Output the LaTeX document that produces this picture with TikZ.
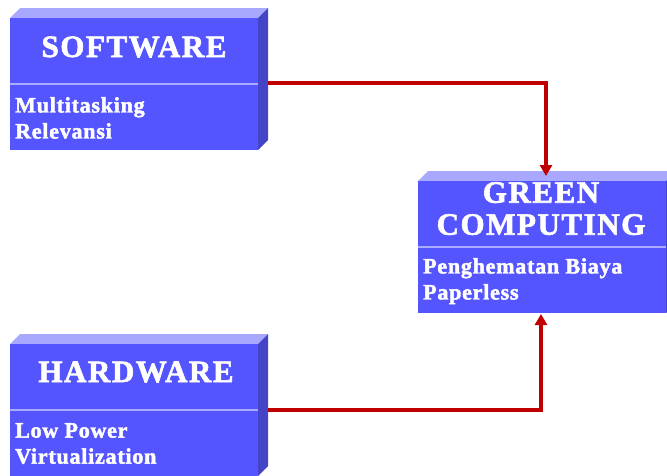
\documentclass[tikz,border=0pt]{standalone}
\usepackage{fontspec}
\usetikzlibrary{arrows.meta}
\setmainfont{Liberation Serif}
\definecolor{front}{RGB}{85,85,255}
\definecolor{topf}{RGB}{168,168,255}
\definecolor{sidef}{RGB}{68,68,200}
\definecolor{divl}{RGB}{170,170,255}
\definecolor{arr}{RGB}{192,0,0}
\newcommand{\ttlfont}{\fontsize{31}{32}\selectfont\bfseries\addfontfeature{LetterSpace=5,FakeBold=2}}
\newcommand{\bodyfont}{\fontsize{22}{26}\selectfont\bfseries\addfontfeature{LetterSpace=3.5,FakeBold=2}}
\begin{document}
\begin{tikzpicture}[x=1pt,y=-1pt,
  frontbox/.style={draw=none,fill=front,minimum width=248pt,minimum height=132pt,inner sep=0pt,anchor=north west},
  topface/.style={fill=topf},
  sideface/.style={fill=sidef},
  divider/.style={draw=divl,line width=1.2pt},
  ttl/.style={text=white,font=\ttlfont,align=center,inner sep=0pt},
  body/.style={text=white,font=\bodyfont,align=left,inner sep=0pt,anchor=north west},
  link/.style={draw=arr,line width=3.5pt,-{Triangle[length=11pt,width=12pt]}},
  ]
\useasboundingbox (0,0) rectangle (667,475);
% SOFTWARE
\fill[topface] (10,18) -- (20,8) -- (268,8) -- (258,18) -- cycle;
\fill[sideface] (258,18) -- (268,8) -- (268,140) -- (258,150) -- cycle;
\node[frontbox] (sw) at (10,18) {};
\draw[divider] (10,84) -- (258,84);
\node[ttl,anchor=base] (swt) at (134,57) {SOFTWARE};
\node[body] (swb) at (15,97) {Multitasking\\Relevansi};
% HARDWARE
\fill[topface] (10,344) -- (20,334) -- (268,334) -- (258,344) -- cycle;
\fill[sideface] (258,344) -- (268,334) -- (268,466) -- (258,476) -- cycle;
\node[frontbox] (hw) at (10,344) {};
\draw[divider] (10,410) -- (258,410);
\node[ttl,anchor=base] (hwt) at (136,382) {HARDWARE};
\node[body] (hwb) at (15,423) {Low Power\\Virtualization};
% GREEN COMPUTING
\fill[topface] (418,181) -- (428,171) -- (676,171) -- (666,181) -- cycle;
\fill[sideface] (666,181) -- (676,171) -- (676,303) -- (666,313) -- cycle;
\node[frontbox] (gc) at (418,181) {};
\draw[divider] (418,247) -- (666,247);
\node[ttl,anchor=north] (gct) at (541,182) {GREEN\\COMPUTING};
\node[body] (gcb) at (423,258) {Penghematan Biaya\\Paperless};
% connectors
\coordinate (swout) at (268,83);
\coordinate (hwout) at (268,410);
\coordinate (gcin) at (546,176);
\coordinate (gcbot) at (541,314);
\draw[link] (swout) -| (gcin);
\draw[link] (hwout) -| (gcbot);
\end{tikzpicture}
\end{document}
